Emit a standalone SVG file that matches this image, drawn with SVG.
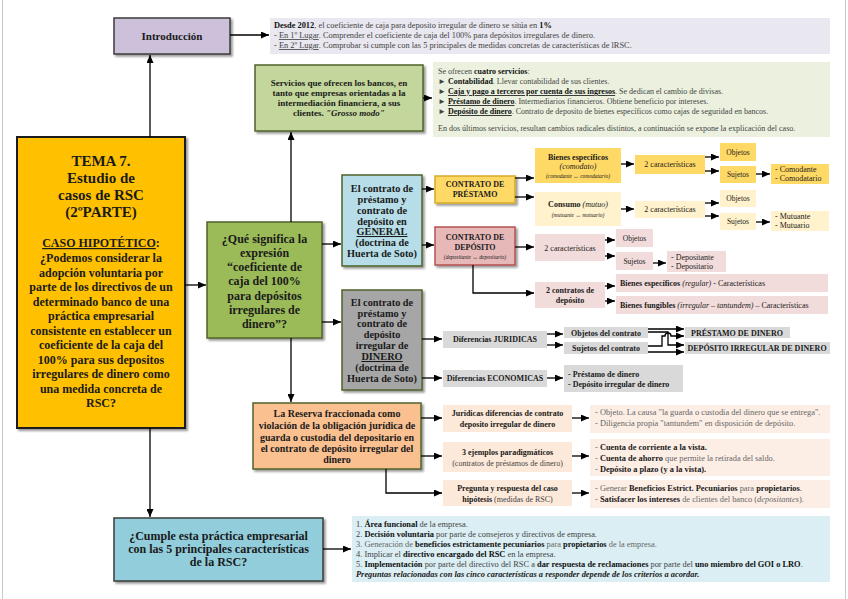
<svg xmlns="http://www.w3.org/2000/svg" width="848" height="599" viewBox="0 0 848 599">
<defs>
<marker id="ah" markerWidth="8" markerHeight="7" refX="8" refY="3.5" orient="auto" markerUnits="userSpaceOnUse"><path d="M0,0 L8,3.5 L0,7 z" fill="#000"/></marker>
<filter id="sh" x="-10%" y="-10%" width="130%" height="130%"><feDropShadow dx="2" dy="2" stdDeviation="1" flood-color="#000" flood-opacity="0.4"/></filter>
</defs>
<style>
text { font-family: "Liberation Serif","DejaVu Serif",serif; fill:#1a1a1a; }
.b { font-weight:bold; }
.i { font-style:italic; }
.u { text-decoration: underline; }
.c { text-anchor: middle; }
.g { fill:#444; }
.lg { fill:#666; }
.conn path { fill:none; stroke:#000; stroke-width:1.3; marker-end:url(#ah); }
.main { stroke:#3b3b3b; stroke-width:1.5; filter:url(#sh); }
.grn { stroke:#4f6228; stroke-width:1.5; filter:url(#sh); }
.s7 { font-size:7.5px; }
.s8 { font-size:8px; }
.s83 { font-size:8.4px; }
.s9 { font-size:9px; }
.s10 { font-size:10px; }
.s105 { font-size:10.3px; }
.s11 { font-size:11px; }
.s12 { font-size:12px; }
.s14 { font-size:15px; }
.tiny { font-size:5.5px; }
</style>
<line x1="2.5" y1="0" x2="2.5" y2="599" stroke="#c8c8c8"/>
<line x1="845.5" y1="0" x2="845.5" y2="599" stroke="#c8c8c8"/>

<g id="introduccion">
<rect x="114" y="18" width="116" height="36" fill="#ccc0da" class="main"/>
<text x="172" y="40" class="b c s11">Introducción</text>
</g>

<g id="intro-text">
<rect x="270" y="18" width="560" height="36" fill="#e9e7ef"/>
<text x="274" y="28" class="s83 g"><tspan class="b" fill="#111">Desde 2012</tspan>, el coeficiente de caja para deposito irregular de dinero se sitúa en <tspan class="b" fill="#111">1%</tspan></text>
<text x="274" y="38" class="s83 g">- <tspan class="u">En 1º Lugar</tspan>. Comprender el coeficiente de caja del 100% para depósitos irregulares de dinero.</text>
<text x="274" y="48" class="s83 g">- <tspan class="u">En 2º Lugar</tspan>. Comprobar si cumple con las 5 principales de medidas concretas de características de lRSC.</text>
</g>

<g id="servicios">
<rect x="255" y="65" width="168" height="66" fill="#c3d69b" class="grn"/>
<text x="339" y="86" class="b c s9">Servicios que ofrecen los bancos, en</text>
<text x="339" y="96" class="b c s9">tanto que empresas orientadas a la</text>
<text x="339" y="106" class="b c s9">intermediación financiera, a sus</text>
<text x="339" y="116" class="b c s9">clientes. <tspan class="i">"Grosso modo"</tspan></text>
</g>

<g id="servicios-text">
<rect x="433" y="62" width="397" height="75" fill="#ebf1de"/>
<text x="438" y="74" class="s8 g">Se ofrecen <tspan class="b" fill="#111">cuatro servicios</tspan>:</text>
<text x="438" y="84" class="s8 g">► <tspan class="b" fill="#111">Contabilidad</tspan>. Llevar contabilidad de sus clientes.</text>
<text x="438" y="94" class="s8 g">► <tspan class="b u" fill="#111">Caja y pago a terceros por cuenta de sus ingresos</tspan>. Se dedican el cambio de divisas.</text>
<text x="438" y="104" class="s8 g">► <tspan class="b u" fill="#111">Préstamo de dinero</tspan>. Intermediarios financieros. Obtiene beneficio por intereses.</text>
<text x="438" y="114" class="s8 g">► <tspan class="b u" fill="#111">Depósito de dinero</tspan>. Contrato de deposito de bienes específicos como cajas de seguridad en bancos.</text>
<text x="438" y="131" class="s8 g">En dos últimos servicios, resultan cambios radicales distintos, a continuación se expone la explicación del caso.</text>
</g>

<g id="tema">
<rect x="17" y="137" width="168" height="291" fill="#ffc000" stroke="#1a1a1a" stroke-width="2" filter="url(#sh)"/>
<text x="101" y="166" class="b c s14">TEMA 7.</text>
<text x="101" y="183" class="b c s14">Estudio de</text>
<text x="101" y="200" class="b c s14">casos de RSC</text>
<text x="101" y="217" class="b c s14">(2ºPARTE)</text>
<text x="101" y="247" class="b c s12"><tspan class="u">CASO HIPOTÉTICO</tspan>:</text>
<text x="101" y="262" class="b c s12">¿Podemos considerar la</text>
<text x="101" y="277" class="b c s12">adopción voluntaria por</text>
<text x="101" y="291" class="b c s12">parte de los directivos de un</text>
<text x="101" y="306" class="b c s12">determinado banco de una</text>
<text x="101" y="320" class="b c s12">práctica empresarial</text>
<text x="101" y="335" class="b c s12">consistente en establecer un</text>
<text x="101" y="349" class="b c s12">coeficiente de la caja del</text>
<text x="101" y="364" class="b c s12">100% para sus depositos</text>
<text x="101" y="378" class="b c s12">irregulares de dinero como</text>
<text x="101" y="393" class="b c s12">una medida concreta de</text>
<text x="101" y="407" class="b c s12">RSC?</text>
</g>

<g id="pregunta-coef">
<rect x="207" y="222" width="115" height="116" fill="#9bbb59" class="grn"/>
<text x="264.5" y="243" class="b c s12">¿Qué significa la</text>
<text x="264.5" y="257" class="b c s12">expresión</text>
<text x="264.5" y="271" class="b c s12">“coeficiente de</text>
<text x="264.5" y="285" class="b c s12">caja del 100%</text>
<text x="264.5" y="300" class="b c s12">para depósitos</text>
<text x="264.5" y="314" class="b c s12">irregulares de</text>
<text x="264.5" y="328" class="b c s12">dinero”?</text>
</g>

<g id="contrato-general">
<rect x="342" y="175" width="80" height="91" fill="#b7dee8" class="grn"/>
<text x="382" y="192" class="b c s105">El contrato de</text>
<text x="382" y="203" class="b c s105">préstamo y</text>
<text x="382" y="214" class="b c s105">contrato de</text>
<text x="382" y="224.5" class="b c s105">depósito en</text>
<text x="382" y="235" class="b c s105 u">GENERAL</text>
<text x="382" y="246" class="b c s105">(doctrina de</text>
<text x="382" y="257" class="b c s105">Huerta de Soto)</text>
</g>

<g id="contrato-prestamo">
<rect x="435" y="176" width="80" height="27" fill="#ffd966" stroke="#d6a92a" stroke-width="1.5" filter="url(#sh)"/>
<text x="475" y="187" class="b c s8" fill="#333">CONTRATO DE</text>
<text x="475" y="197" class="b c s8" fill="#333">PRÉSTAMO</text>
</g>

<g id="contrato-deposito">
<rect x="435" y="227" width="80" height="38" fill="#e6b9b8" stroke="#b5514f" stroke-width="1.5" filter="url(#sh)"/>
<text x="475" y="240" class="b c s8" fill="#333">CONTRATO DE</text>
<text x="475" y="250" class="b c s8" fill="#333">DEPÓSITO</text>
<text x="475" y="259" class="i c tiny" fill="#555">(depositante ↔ depositario)</text>
</g>

<g id="bienes-especificos">
<rect x="535" y="148" width="86" height="35" fill="#ffd966"/>
<text x="578" y="160" class="b c s8">Bienes específicos</text>
<text x="578" y="169" class="i c s8">(comodato)</text>
<text x="578" y="178" class="i c tiny">(comodante ↔ comodatario)</text>
</g>
<g id="car-comodato">
<rect x="635" y="155" width="70" height="19" fill="#ffd966"/>
<text x="670" y="167" class="c s8">2 características</text>
</g>
<g id="obj-comodato"><rect x="720" y="143" width="36" height="18" fill="#ffd966"/><text x="738" y="155" class="c s7">Objetos</text></g>
<g id="suj-comodato"><rect x="720" y="166" width="36" height="17" fill="#ffd966"/><text x="738" y="177" class="c s7">Sujetos</text></g>
<g id="comodante"><rect x="771" y="164" width="58" height="20" fill="#ffd966"/>
<text x="775" y="172" class="s8">- Comodante</text><text x="775" y="181" class="s8">- Comodatario</text></g>

<g id="consumo">
<rect x="535" y="192" width="86" height="34" fill="#fff2cc"/>
<text x="578" y="207" class="c s8"><tspan class="b">Consumo</tspan> <tspan class="i">(mutuo)</tspan></text>
<text x="578" y="217" class="i c tiny">(mutuante ↔ mutuario)</text>
</g>
<g id="car-mutuo"><rect x="635" y="201" width="70" height="17" fill="#fff2cc"/><text x="670" y="212" class="c s8">2 características</text></g>
<g id="obj-mutuo"><rect x="720" y="190" width="36" height="17" fill="#fff2cc"/><text x="738" y="201" class="c s7">Objetos</text></g>
<g id="suj-mutuo"><rect x="720" y="213" width="36" height="17" fill="#fff2cc"/><text x="738" y="224" class="c s7">Sujetos</text></g>
<g id="mutuante"><rect x="771" y="211" width="58" height="20" fill="#fff2cc"/>
<text x="775" y="219" class="s8">- Mutuante</text><text x="775" y="228" class="s8">- Mutuario</text></g>

<g id="car-deposito"><rect x="535" y="234" width="70" height="27" fill="#f2dcdb"/><text x="570" y="251" class="c s8">2 características</text></g>
<g id="obj-deposito"><rect x="616" y="229" width="37" height="18" fill="#f2dcdb"/><text x="634.5" y="241" class="c s7">Objetos</text></g>
<g id="suj-deposito"><rect x="616" y="252" width="37" height="18" fill="#f2dcdb"/><text x="634.5" y="264" class="c s7">Sujetos</text></g>
<g id="depositante"><rect x="667" y="251" width="59" height="21" fill="#f2dcdb"/>
<text x="671" y="260" class="s8">- Depositante</text><text x="671" y="269" class="s8">- Depositario</text></g>

<g id="dos-contratos"><rect x="535" y="282" width="70" height="26" fill="#f2dcdb"/>
<text x="570" y="293" class="b c s8">2 contratos de</text><text x="570" y="303" class="b c s8">depósito</text></g>
<g id="bienes-regular"><rect x="616" y="274" width="212" height="18" fill="#f2dcdb"/>
<text x="620" y="286" class="s8"><tspan class="b">Bienes específicos</tspan> <tspan class="i">(regular)</tspan> - Características</text></g>
<g id="bienes-fungibles"><rect x="616" y="296" width="212" height="18" fill="#f2dcdb"/>
<text x="620" y="308" class="s8"><tspan class="b">Bienes fungibles</tspan> <tspan class="i">(irregular – tantundem)</tspan> – Características</text></g>

<g id="contrato-dinero">
<rect x="342" y="290" width="80" height="100" fill="#a6a6a6" class="grn"/>
<text x="382" y="306" class="b c s105">El contrato de</text>
<text x="382" y="316.5" class="b c s105">préstamo y</text>
<text x="382" y="327" class="b c s105">contrato de</text>
<text x="382" y="338" class="b c s105">depósito</text>
<text x="382" y="349" class="b c s105">irregular de</text>
<text x="382" y="360" class="b c s105 u">DINERO</text>
<text x="382" y="371" class="b c s105">(doctrina de</text>
<text x="382" y="382" class="b c s105">Huerta de Soto)</text>
</g>

<g id="dif-juridicas"><rect x="443" y="331" width="104" height="17" fill="#d9d9d9"/><text x="495" y="342" class="b c s8">Diferencias JURIDICAS</text></g>
<g id="dif-economicas"><rect x="443" y="370" width="104" height="17" fill="#d9d9d9"/><text x="495" y="381" class="b c s8">Diferencias ECONOMICAS</text></g>
<g id="objetos-contrato"><rect x="564" y="327" width="84" height="11" fill="#d9d9d9"/><text x="606" y="336" class="b c s8">Objetos del contrato</text></g>
<g id="sujetos-contrato"><rect x="564" y="342" width="84" height="12" fill="#d9d9d9"/><text x="606" y="351" class="b c s8">Sujetos del contrato</text></g>
<g id="prestamo-dinero"><rect x="685" y="327" width="105" height="11" fill="#d9d9d9"/><text x="737" y="336" class="b c s8">PRÉSTAMO DE DINERO</text></g>
<g id="deposito-dinero"><rect x="685" y="342" width="145" height="12" fill="#d9d9d9"/><text x="757" y="351" class="b c s8">DEPÓSITO IRREGULAR DE DINERO</text></g>
<g id="economicas-text"><rect x="564" y="365" width="119" height="27" fill="#d9d9d9"/>
<text x="568" y="377" class="b s8">- Préstamo de dinero</text><text x="568" y="387" class="b s8">- Depósito irregular de dinero</text></g>

<g id="reserva">
<rect x="253" y="403" width="168" height="66" fill="#fac090" class="grn"/>
<text x="337" y="417" class="b c s10">La Reserva fraccionada como</text>
<text x="337" y="429" class="b c s10">violación de la obligación jurídica de</text>
<text x="337" y="441" class="b c s10">guarda o custodia del depositario en</text>
<text x="337" y="452" class="b c s10">el contrato de depósito irregular del</text>
<text x="337" y="463" class="b c s10">dinero</text>
</g>

<g id="juridicas-dif"><rect x="443" y="405" width="129" height="27" fill="#fde9d9"/>
<text x="507.5" y="416" class="b c s8">Jurídicas diferencias de contrato</text><text x="507.5" y="427" class="b c s8">deposito irregular de dinero</text></g>
<g id="tres-ejemplos"><rect x="443" y="442" width="129" height="30" fill="#fde9d9"/>
<text x="507.5" y="455" class="b c s8">3 ejemplos paradigmáticos</text><text x="507.5" y="466" class="c s8 g">(contratos de préstamos de dinero)</text></g>
<g id="pregunta-caso"><rect x="443" y="480" width="129" height="26" fill="#fde9d9"/>
<text x="507.5" y="491" class="b c s8">Pregunta y respuesta del caso</text><text x="507.5" y="502" class="c s8"><tspan class="b">hipótesis</tspan> <tspan class="g">(medidas de RSC)</tspan></text></g>

<g id="juridicas-text"><rect x="590" y="405" width="240" height="28" fill="#fdeee5"/>
<text x="595" y="415" class="s83 lg">- Objeto. La causa "la guarda o custodia del dinero que se entrega".</text>
<text x="595" y="426" class="s83 lg">- Diligencia propia "tantundem" en disposición de depósito.</text></g>
<g id="ejemplos-text"><rect x="590" y="439" width="240" height="37" fill="#fdeee5"/>
<text x="595" y="450" class="s83"><tspan class="lg">- </tspan><tspan class="b">Cuenta de corriente a la vista.</tspan></text>
<text x="595" y="461" class="s83"><tspan class="lg">- </tspan><tspan class="b">Cuenta de ahorro</tspan><tspan class="lg"> que permite la retirada del saldo.</tspan></text>
<text x="595" y="472" class="s83"><tspan class="lg">- </tspan><tspan class="b">Depósito a plazo (y a la vista).</tspan></text></g>
<g id="pregunta-text"><rect x="590" y="480" width="240" height="28" fill="#fdeee5"/>
<text x="595" y="491" class="s83"><tspan class="lg">- Generar </tspan><tspan class="b">Beneficios Estrict. Pecuniarios</tspan><tspan class="lg"> para </tspan><tspan class="b">propietarios</tspan>.</text>
<text x="595" y="502" class="s83"><tspan class="lg">- </tspan><tspan class="b">Satisfacer los intereses</tspan><tspan class="lg"> de clientes del banco (</tspan><tspan class="i lg">depositantes</tspan><tspan class="lg">).</tspan></text></g>

<g id="cumple">
<rect x="114" y="518" width="209" height="63" fill="#92cddc" class="main"/>
<text x="218.5" y="540" class="b c s12">¿Cumple esta práctica empresarial</text>
<text x="218.5" y="553" class="b c s12">con las 5 principales características</text>
<text x="218.5" y="566" class="b c s12">de la RSC?</text>
</g>

<g id="cumple-text"><rect x="352" y="516" width="478" height="66" fill="#daeef3"/>
<text x="356" y="527" class="s83 g">1. <tspan class="b" fill="#111">Área funcional</tspan> de la empresa.</text>
<text x="356" y="537" class="s83 g">2. <tspan class="b" fill="#111">Decisión voluntaria</tspan> por parte de consejeros y directivos de empresa.</text>
<text x="356" y="547" class="s83 lg">3. Generación de <tspan class="b" fill="#111">beneficios estrictamente pecuniarios</tspan> para <tspan class="b" fill="#111">propietarios</tspan> de la empresa.</text>
<text x="356" y="557" class="s83 g">4. Implicar el <tspan class="b" fill="#111">directivo encargado del RSC</tspan> en la empresa.</text>
<text x="356" y="567" class="s83 g">5. <tspan class="b" fill="#111">Implementación</tspan> por parte del directivo del RSC a <tspan class="b" fill="#111">dar respuesta de reclamaciones</tspan> por parte del <tspan class="b" fill="#111">uno miembro del GOI o LRO</tspan>.</text>
<text x="356" y="577" class="s83 b i">Preguntas relacionadas con las cinco características a responder depende de los criterios a acordar.</text></g>

<g id="connectors" class="conn">
<path d="M230,35 H269"/>
<path d="M150,137 V55"/>
<path d="M150,428 V517"/>
<path d="M185,285 H206"/>
<path d="M291,222 V132"/>
<path d="M423,98 H432"/>
<path d="M322,244 H341"/>
<path d="M322,322 H341"/>
<path d="M291,338 V402"/>
<path d="M422,189 H434"/>
<path d="M422,245 H434"/>
<path d="M515,178 H534"/>
<path d="M515,197 H534"/>
<path d="M621,164 H634"/>
<path d="M705,157 H719"/>
<path d="M705,171 H719"/>
<path d="M756,174 H770"/>
<path d="M621,209 H634"/>
<path d="M705,203 H719"/>
<path d="M705,216 H719"/>
<path d="M756,222 H770"/>
<path d="M515,247 H534"/>
<path d="M605,240 H615"/>
<path d="M605,256 H615"/>
<path d="M653,263 H666"/>
<path d="M473,265 V293 H534"/>
<path d="M605,286 H615"/>
<path d="M605,301 H615"/>
<path d="M422,339 H442"/>
<path d="M422,378 H442"/>
<path d="M547,334 H563"/>
<path d="M547,345 H563"/>
<path d="M648,329 H684"/>
<path d="M648,332 H668 V345 H684"/>
<path d="M648,346 H662 V336 H665 a3,3 0 0 1 6,0 H684"/>
<path d="M648,352 H684"/>
<path d="M547,378 H563"/>
<path d="M421,418 H442"/>
<path d="M421,456 H442"/>
<path d="M386,469 V493 H442"/>
<path d="M572,418 H589"/>
<path d="M572,456 H589"/>
<path d="M572,493 H589"/>
<path d="M323,549 H351"/>
</g>
</svg>
